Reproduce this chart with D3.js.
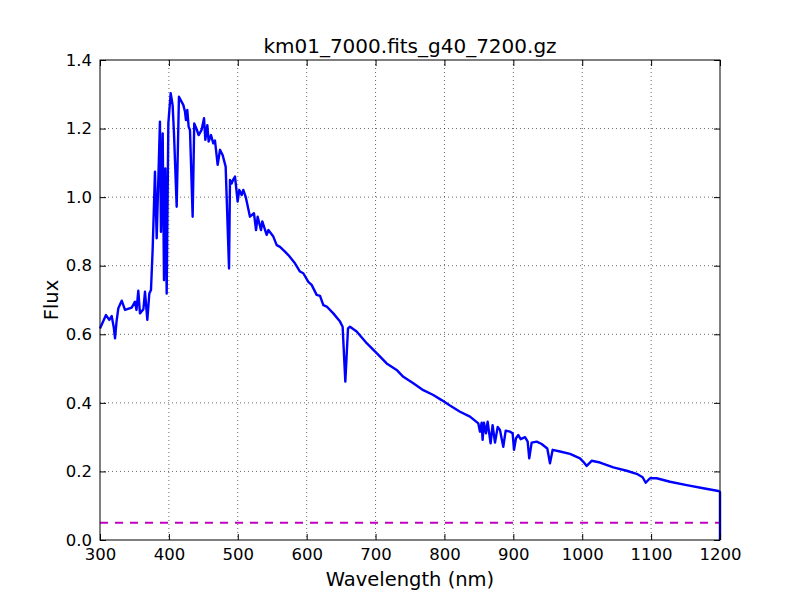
<!DOCTYPE html>
<html>
<head>
<meta charset="utf-8">
<script src="https://d3js.org/d3.v7.min.js"></script>
<style>
body { margin: 0; background: #fff; }
text { font-family: "DejaVu Sans", sans-serif; }
</style>
</head>
<body>
<div class="container"></div>
<script>
const WIDTH = 800;
const HEIGHT = 600;
const margin = {top: 60, right: 80, bottom: 60, left: 100};

const title = "km01_7000.fits_g40_7200.gz";
const xTicks = [300, 400, 500, 600, 700, 800, 900, 1000, 1100, 1200];
const yTicks = [0.0, 0.2, 0.4, 0.6, 0.8, 1.0, 1.2, 1.4];
const threshold = 0.05;

// spectrum: wavelength (nm), flux
const wavelength = [
  300, 308.7, 313.5, 317, 320, 321.8, 324, 326.6, 331.5, 336.3, 346, 350.8, 353, 355.6, 358, 363,
  365.3, 368.7, 371.6, 374, 376.4, 379.8, 382.3, 387, 388.5, 391, 392.9, 394.8, 396.8, 399.2,
  402.6, 405.4, 407.4, 411.3, 414.6, 418.5, 420.9, 423.4, 424.8, 426.7, 428.7, 430.6, 434.5,
  436.8, 440.3, 443.2, 447.5, 451, 452.9, 455.8, 457.7, 461.1, 464.5, 466.9, 470.8, 474.2, 478,
  482.4, 487.3, 488.7, 491.2, 493.5, 496, 499.8, 502.2, 505.6, 508, 511.5, 517.7, 523.5, 526.5,
  528.9, 533.7, 535.6, 540.5, 542, 544.4, 551.6, 556.5, 561.3, 568.5, 573.4, 583, 590.3, 595.1,
  602.4, 607.2, 614.5, 619.4, 624.2, 629.1, 638.7, 648.4, 652.2, 656.1, 660, 662.9, 672.6, 687.1,
  701.6, 716.1, 730.6, 740.3, 754.8, 769.3, 783.8, 795.9, 808, 822.6, 837.1, 849.2, 851.6, 854,
  855.4, 857.4, 860.3, 862.7, 867, 869.9, 873.4, 877.3, 880.6, 885.4, 888.9, 895.2, 899, 901,
  903.9, 907.2, 910.7, 917, 920.8, 923.1, 926.6, 933.9, 941.1, 949.3, 953.2, 957.1, 967.7, 982.3,
  996.8, 1001.6, 1006.5, 1013.7, 1025.8, 1045.2, 1064.5, 1079, 1087.7, 1092.1, 1098.4, 1108,
  1127.4, 1151.6, 1175.8, 1197.6, 1200, 1200
];
const flux = [
  0.617, 0.656, 0.642, 0.653, 0.62, 0.588, 0.637, 0.676, 0.698, 0.671, 0.678, 0.695, 0.671, 0.727,
  0.661, 0.673, 0.724, 0.642, 0.719, 0.729, 0.846, 1.074, 0.88, 1.22, 0.899, 1.186, 0.758, 1.084,
  0.719, 1.215, 1.303, 1.269, 1.186, 0.972, 1.293, 1.278, 1.269, 1.249, 1.225, 1.254, 1.205,
  1.196, 0.943, 1.215, 1.198, 1.181, 1.196, 1.23, 1.167, 1.21, 1.162, 1.181, 1.157, 1.165, 1.094,
  1.138, 1.123, 1.089, 0.792, 1.05, 1.04, 1.052, 1.06, 0.987, 1.021, 1.006, 1.021, 1.001, 0.943,
  0.953, 0.904, 0.943, 0.904, 0.929, 0.899, 0.89, 0.904, 0.885, 0.86, 0.855, 0.841, 0.831, 0.807,
  0.783, 0.778, 0.753, 0.744, 0.715, 0.712, 0.685, 0.681, 0.661, 0.637, 0.622, 0.462, 0.617,
  0.622, 0.608, 0.574, 0.545, 0.515, 0.496, 0.476, 0.457, 0.437, 0.423, 0.408, 0.392, 0.374,
  0.36, 0.34, 0.316, 0.342, 0.292, 0.342, 0.311, 0.345, 0.282, 0.335, 0.284, 0.33, 0.321, 0.272,
  0.319, 0.316, 0.311, 0.263, 0.297, 0.306, 0.294, 0.3, 0.287, 0.238, 0.284, 0.287, 0.28, 0.267,
  0.224, 0.263, 0.258, 0.251, 0.238, 0.228, 0.216, 0.231, 0.226, 0.212, 0.202, 0.193, 0.183,
  0.167, 0.18, 0.18, 0.17, 0.16, 0.151, 0.143, 0.14, 0.0
];

var load = function(){
    var w = WIDTH - margin.left - margin.right;
    var h = HEIGHT - margin.top - margin.bottom;

    var x_scale = d3.scaleLinear().domain([300, 1200]).range([0, w]);
    var y_scale = d3.scaleLinear().domain([0, 1.4]).range([h, 0]);

    var svg = d3.select(".container")
        .append("svg")
        .attr("width", WIDTH)
        .attr("height", HEIGHT);

    var g = svg.append("g")
        .attr("transform", "translate(" + margin.left + "," + margin.top + ")");

    // dotted grid
    g.append("g").selectAll("line")
        .data(xTicks.slice(1, -1))
        .enter().append("line")
        .attr("x1", d => x_scale(d)).attr("x2", d => x_scale(d))
        .attr("y1", 0).attr("y2", h)
        .style("stroke", "#000").style("stroke-width", 0.6)
        .style("stroke-dasharray", "1,3");
    g.append("g").selectAll("line")
        .data(yTicks.slice(1, -1))
        .enter().append("line")
        .attr("y1", d => y_scale(d)).attr("y2", d => y_scale(d))
        .attr("x1", 0).attr("x2", w)
        .style("stroke", "#000").style("stroke-width", 0.6)
        .style("stroke-dasharray", "1,3");

    // threshold line
    g.append("line")
        .attr("x1", 0).attr("x2", w)
        .attr("y1", y_scale(threshold)).attr("y2", y_scale(threshold))
        .style("stroke", "#bf00bf").style("stroke-width", 2)
        .style("stroke-dasharray", "8,7");

    var pts = wavelength.map((v, i) => [v, flux[i]]);
    var line = d3.line()
        .x(d => x_scale(d[0]))
        .y(d => y_scale(d[1]));

    g.append("path")
        .datum(pts)
        .attr("d", line)
        .style("fill", "none")
        .style("stroke", "#0000ff")
        .style("stroke-width", 2.4)
        .style("stroke-linejoin", "round");

    // axes with inward ticks on all sides
    var xb = g.append("g").attr("transform", "translate(0," + h + ")")
        .call(d3.axisBottom(x_scale).tickValues(xTicks).tickSizeInner(-6).tickSizeOuter(0).tickPadding(8).tickFormat(d3.format("d")));
    var xt = g.append("g")
        .call(d3.axisTop(x_scale).tickValues(xTicks).tickSizeInner(-6).tickSizeOuter(0).tickFormat(""));
    var yl = g.append("g")
        .call(d3.axisLeft(y_scale).tickValues(yTicks).tickSizeInner(-6).tickSizeOuter(0).tickPadding(8).tickFormat(d3.format(".1f")));
    var yr = g.append("g").attr("transform", "translate(" + w + ",0)")
        .call(d3.axisRight(y_scale).tickValues(yTicks).tickSizeInner(-6).tickSizeOuter(0).tickFormat(""));

    [xb, xt, yl, yr].forEach(function(a){
        a.select(".domain").remove();
        a.selectAll("text").style("font-family", "DejaVu Sans").style("font-size", "16.5px").style("fill", "#000");
        a.selectAll("line").style("stroke", "#000");
    });

    g.append("rect")
        .attr("width", w).attr("height", h)
        .style("fill", "none").style("stroke", "#000").style("stroke-width", 1);

    svg.append("text")
        .attr("x", margin.left + w / 2).attr("y", 53)
        .attr("text-anchor", "middle")
        .style("font-size", "20px")
        .text(title);

    svg.append("text")
        .attr("x", margin.left + w / 2).attr("y", 586)
        .attr("text-anchor", "middle")
        .style("font-size", "19.5px")
        .text("Wavelength (nm)");

    svg.append("text")
        .attr("transform", "translate(58," + (margin.top + h / 2) + ") rotate(-90)")
        .attr("text-anchor", "middle")
        .style("font-size", "19.5px")
        .text("Flux");
};

window.onload = load;
</script>
</body>
</html>
